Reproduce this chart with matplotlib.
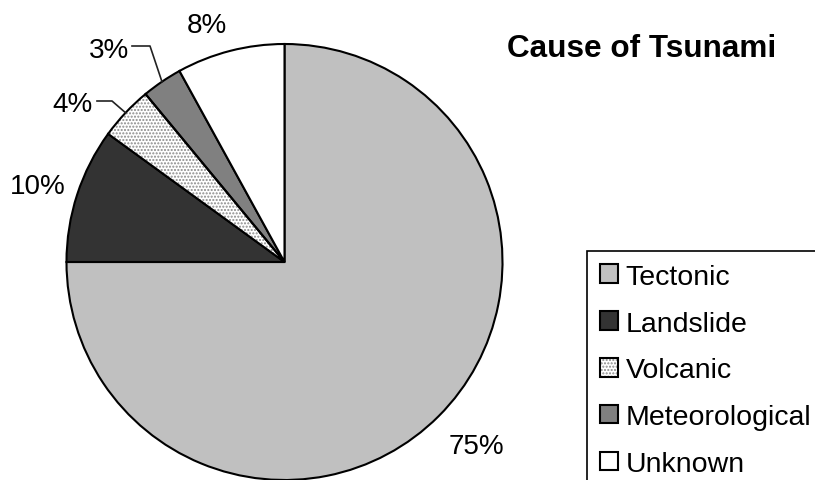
import numpy as np
import matplotlib.pyplot as plt
from matplotlib.patches import Patch, Wedge

plt.rcParams['font.family'] = ['Liberation Sans', 'DejaVu Sans']

# share of tsunami events by cause (percent)
causes = ['Tectonic', 'Landslide', 'Volcanic', 'Meteorological', 'Unknown']
shares = [75, 10, 4, 3, 8]

fills = ['#c0c0c0', '#333333', 'white', '#808080', 'white']

W, H = 815, 481
cx, cy, r = 284.5, 218, 218

# label centres in pixels from the top-left corner
label_pos = {
    'Tectonic': (476, 447),
    'Landslide': (38, 187),
    'Volcanic': (72, 105),
    'Meteorological': (109, 51),
    'Unknown': (207, 26),
}
# leader lines for the thin slices: elbow point, then end point next to the text
leaders = {
    'Volcanic': ((112, 102), (97, 102)),
    'Meteorological': ((150, 47), (132, 47)),
}

fig = plt.figure(figsize=(W / 100, H / 100), dpi=100)
ax = fig.add_axes([0, 0, 1, 1])

wedges, _ = ax.pie(shares, colors=fills, startangle=90, counterclock=False,
                   center=(cx, cy), radius=r,
                   wedgeprops=dict(edgecolor='black', linewidth=1.5))

# dotted fill for the volcanic slice, grey dots with a black outline on top
w = wedges[causes.index('Volcanic')]
w.set_hatch('.....')
w.set_edgecolor('#8a8a8a')
w.set_linewidth(0)
ax.add_patch(Wedge((cx, cy), r, w.theta1, w.theta2, fill=False,
                   edgecolor='black', linewidth=1.5))

for name, val, wd in zip(causes, shares, wedges):
    lx, ly = label_pos[name]
    ax.text(lx, H - ly, f'{val}%', ha='center', va='center', fontsize=20)
    if name in leaders:
        mid = np.deg2rad((wd.theta1 + wd.theta2) / 2)
        sx, sy = cx + r * np.cos(mid), cy + r * np.sin(mid)
        (ex, ey), (tx, ty) = leaders[name]
        ax.plot([sx, ex, tx], [sy, H - ey, H - ty], color='#222222', lw=1.2)

ax.set_xlim(0, W)
ax.set_ylim(0, H)
ax.set_aspect('equal')
ax.axis('off')

fig.text(641.5 / W, 1 - 57 / H, 'Cause of Tsunami', ha='center', va='baseline',
         fontsize=22.7, fontweight='bold')

handles = []
for name, col in zip(causes, fills):
    if name == 'Volcanic':
        handles.append((Patch(facecolor='white', edgecolor='#8a8a8a', hatch='.....', linewidth=0),
                        Patch(fill=False, edgecolor='black', linewidth=1.5)))
    else:
        handles.append(Patch(facecolor=col, edgecolor='black', linewidth=1.5))

leg = fig.legend(handles, causes, loc='upper left', bbox_to_anchor=(587 / W, 1 - 252 / H),
                 fontsize=20.5, frameon=True, fancybox=False, edgecolor='black',
                 borderpad=0.45, borderaxespad=0, handlelength=0.63, handleheight=0.63,
                 handletextpad=0.28, labelspacing=0.73)
leg.get_frame().set_linewidth(1.2)
leg.get_frame().set_alpha(None)

fig.savefig('out.png', dpi=100)
